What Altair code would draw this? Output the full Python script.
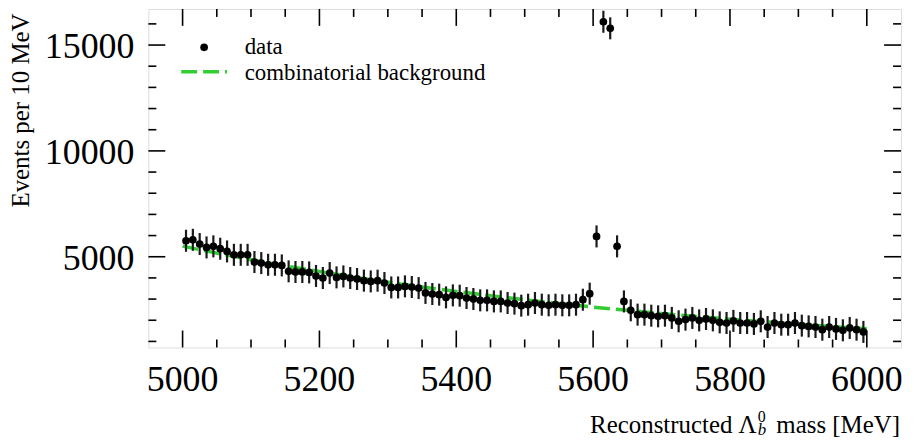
import altair as alt
import pandas as pd

# ---- data ----
mass = list(range(5005, 6000, 10))  # bin centres, 10 MeV bins
counts = [
    5755, 5800, 5600, 5440, 5490, 5380, 5250, 5090, 5090, 5090,
    4750, 4700, 4620, 4620, 4590, 4310, 4280, 4280, 4260, 4090,
    3995, 4230, 4025, 4070, 3995, 3950, 3870, 3835, 3870, 3760,
    3550, 3550, 3600, 3570, 3520, 3290, 3240, 3210, 3080, 3175,
    3160, 3050, 3005, 2940, 2940, 2890, 2890, 2815, 2785, 2690,
    2735, 2815, 2735, 2705, 2735, 2705, 2705, 2735, 2970, 3255,
    5960, 16100, 15790, 5490, 2890, 2470, 2265, 2265, 2215, 2185,
    2215, 2110, 1950, 2030, 2110, 1995, 2060, 1995, 1900, 1870,
    1970, 1870, 1870, 1825, 1950, 1680, 1870, 1790, 1790, 1870,
    1745, 1710, 1680, 1555, 1680, 1590, 1525, 1635, 1555, 1450,
]
ERR = 520

bg_mass = [5000, 5050, 5100, 5150, 5200, 5250, 5300, 5350, 5400, 5450, 5500,
           5550, 5600, 5650, 5700, 5750, 5800, 5850, 5900, 5950, 6000]
bg_vals = [5500, 5170, 4860, 4570, 4300, 4040, 3800, 3570, 3360, 3160, 2970,
           2790, 2620, 2470, 2320, 2180, 2050, 1930, 1810, 1700, 1600]

x_major = [5000, 5200, 5400, 5600, 5800, 6000]
x_labels = ["5000", "5200", "5400", "5600", "5800", "6000"]
x_minor = [5050, 5100, 5150, 5250, 5300, 5350, 5450, 5500, 5550,
           5650, 5700, 5750, 5850, 5900, 5950]
y_major = [5000, 10000, 15000]
y_labels = ["5000", "10000", "15000"]
y_minor = [1000, 2000, 3000, 4000, 6000, 7000, 8000, 9000,
           11000, 12000, 13000, 14000, 16000]

# ---- layout / style ----
W, H = 756, 340
XDOM = [4950, 6050]
YDOM = [715, 16705]
FONT = "Liberation Serif"
GREEN = "#32cd32"
MAJ, MIN = 17, 8

xs = alt.Scale(domain=XDOM, nice=False, zero=False)
ys = alt.Scale(domain=YDOM, nice=False, zero=False)
xaxis = alt.Axis(values=x_major, ticks=False, tickSize=0, domain=False, grid=False,
                 labels=False, title=None)
yaxis = alt.Axis(values=y_major, ticks=False, tickSize=0, domain=False, grid=False,
                 labels=False,
                 title="Events per 10 MeV", titleFont=FONT, titleFontSize=25,
                 titleFontWeight="normal", titleColor="black", titleAngle=270,
                 titleAlign="right", titleBaseline="alphabetic", titleX=-120, titleY=4)


def X(field="m"):
    return alt.X(f"{field}:Q", scale=xs, axis=xaxis)


def Y(field="v"):
    return alt.Y(f"{field}:Q", scale=ys, axis=yaxis)


df = pd.DataFrame({"m": mass, "v": counts})
df["lo"] = df["v"] - ERR
df["hi"] = df["v"] + ERR
bgdf = pd.DataFrame({"m": bg_mass, "v": bg_vals})

line = alt.Chart(bgdf).mark_line(color=GREEN, strokeWidth=3.5, strokeDash=[16, 6]).encode(
    x=X(), y=Y())
bars = alt.Chart(df).mark_rule(color="#1a1a1a", strokeWidth=2.2).encode(
    x=X(), y=Y("lo"), y2="hi:Q")
pts = alt.Chart(df).mark_circle(size=60, color="black", opacity=1).encode(x=X(), y=Y())

tick_layers = []
for vals, ln in ((x_major, MAJ), (x_minor, MIN)):
    d = pd.DataFrame({"m": vals})
    tick_layers.append(alt.Chart(d).mark_rule(color="black", strokeWidth=1.6).encode(
        x=X(), y=alt.value(H), y2=alt.value(H - ln)))
    tick_layers.append(alt.Chart(d).mark_rule(color="black", strokeWidth=1.6).encode(
        x=X(), y=alt.value(0), y2=alt.value(ln)))
for vals, ln in ((y_major, MAJ), (y_minor, MIN)):
    d = pd.DataFrame({"v": vals})
    tick_layers.append(alt.Chart(d).mark_rule(color="black", strokeWidth=1.6).encode(
        y=Y(), x=alt.value(0), x2=alt.value(ln)))
    tick_layers.append(alt.Chart(d).mark_rule(color="black", strokeWidth=1.6).encode(
        y=Y(), x=alt.value(W), x2=alt.value(W - ln)))

# tick labels as text marks placed through the scales
xlab = alt.Chart(pd.DataFrame({"m": x_major, "t": x_labels})).mark_text(
    font=FONT, fontSize=36, color="black", align="center", baseline="alphabetic").encode(
    x=X(), y=alt.value(H + 44), text="t:N")
ylab = alt.Chart(pd.DataFrame({"v": y_major, "t": y_labels})).mark_text(
    font=FONT, fontSize=36, color="black", align="right", baseline="middle", dy=2).encode(
    y=Y(), x=alt.value(-14), text="t:N")

one = pd.DataFrame({"k": [0]})


def label(text, x, y, size, align="left", style="normal", font=FONT):
    return alt.Chart(one).mark_text(text=text, align=align, baseline="alphabetic",
                                    font=font, fontSize=size, fontStyle=style,
                                    color="black").encode(x=alt.value(x), y=alt.value(y))


legend = [
    alt.Chart(one).mark_circle(size=60, color="black", opacity=1).encode(
        x=alt.value(56), y=alt.value(38.5)),
    alt.Chart(one).mark_rule(color=GREEN, strokeWidth=3.5, strokeDash=[16, 6]).encode(
        x=alt.value(33), x2=alt.value(79), y=alt.value(63)),
    label("data", 96.7, 45, 23),
    label("combinatorial background", 96.7, 71, 23),
]
xtitle = [
    label("Reconstructed Λ", 443.7, 426, 25),
    label("0", 612, 415, 16),
    label("b", 612, 428, 17, style="italic"),
    label("mass [MeV]", 755, 426, 25, align="right"),
]

chart = alt.layer(line, bars, pts, *tick_layers, xlab, ylab, *legend, *xtitle).properties(
    width=W, height=H,
    autosize=alt.AutoSizeParams(type="none"),
    padding={"left": 141, "top": 0, "right": 4, "bottom": 91},
).configure_view(
    stroke="black", strokeWidth=2
).configure(background="white", font=FONT)

chart.save("out.html", embed_options={"renderer": "svg", "actions": False})
